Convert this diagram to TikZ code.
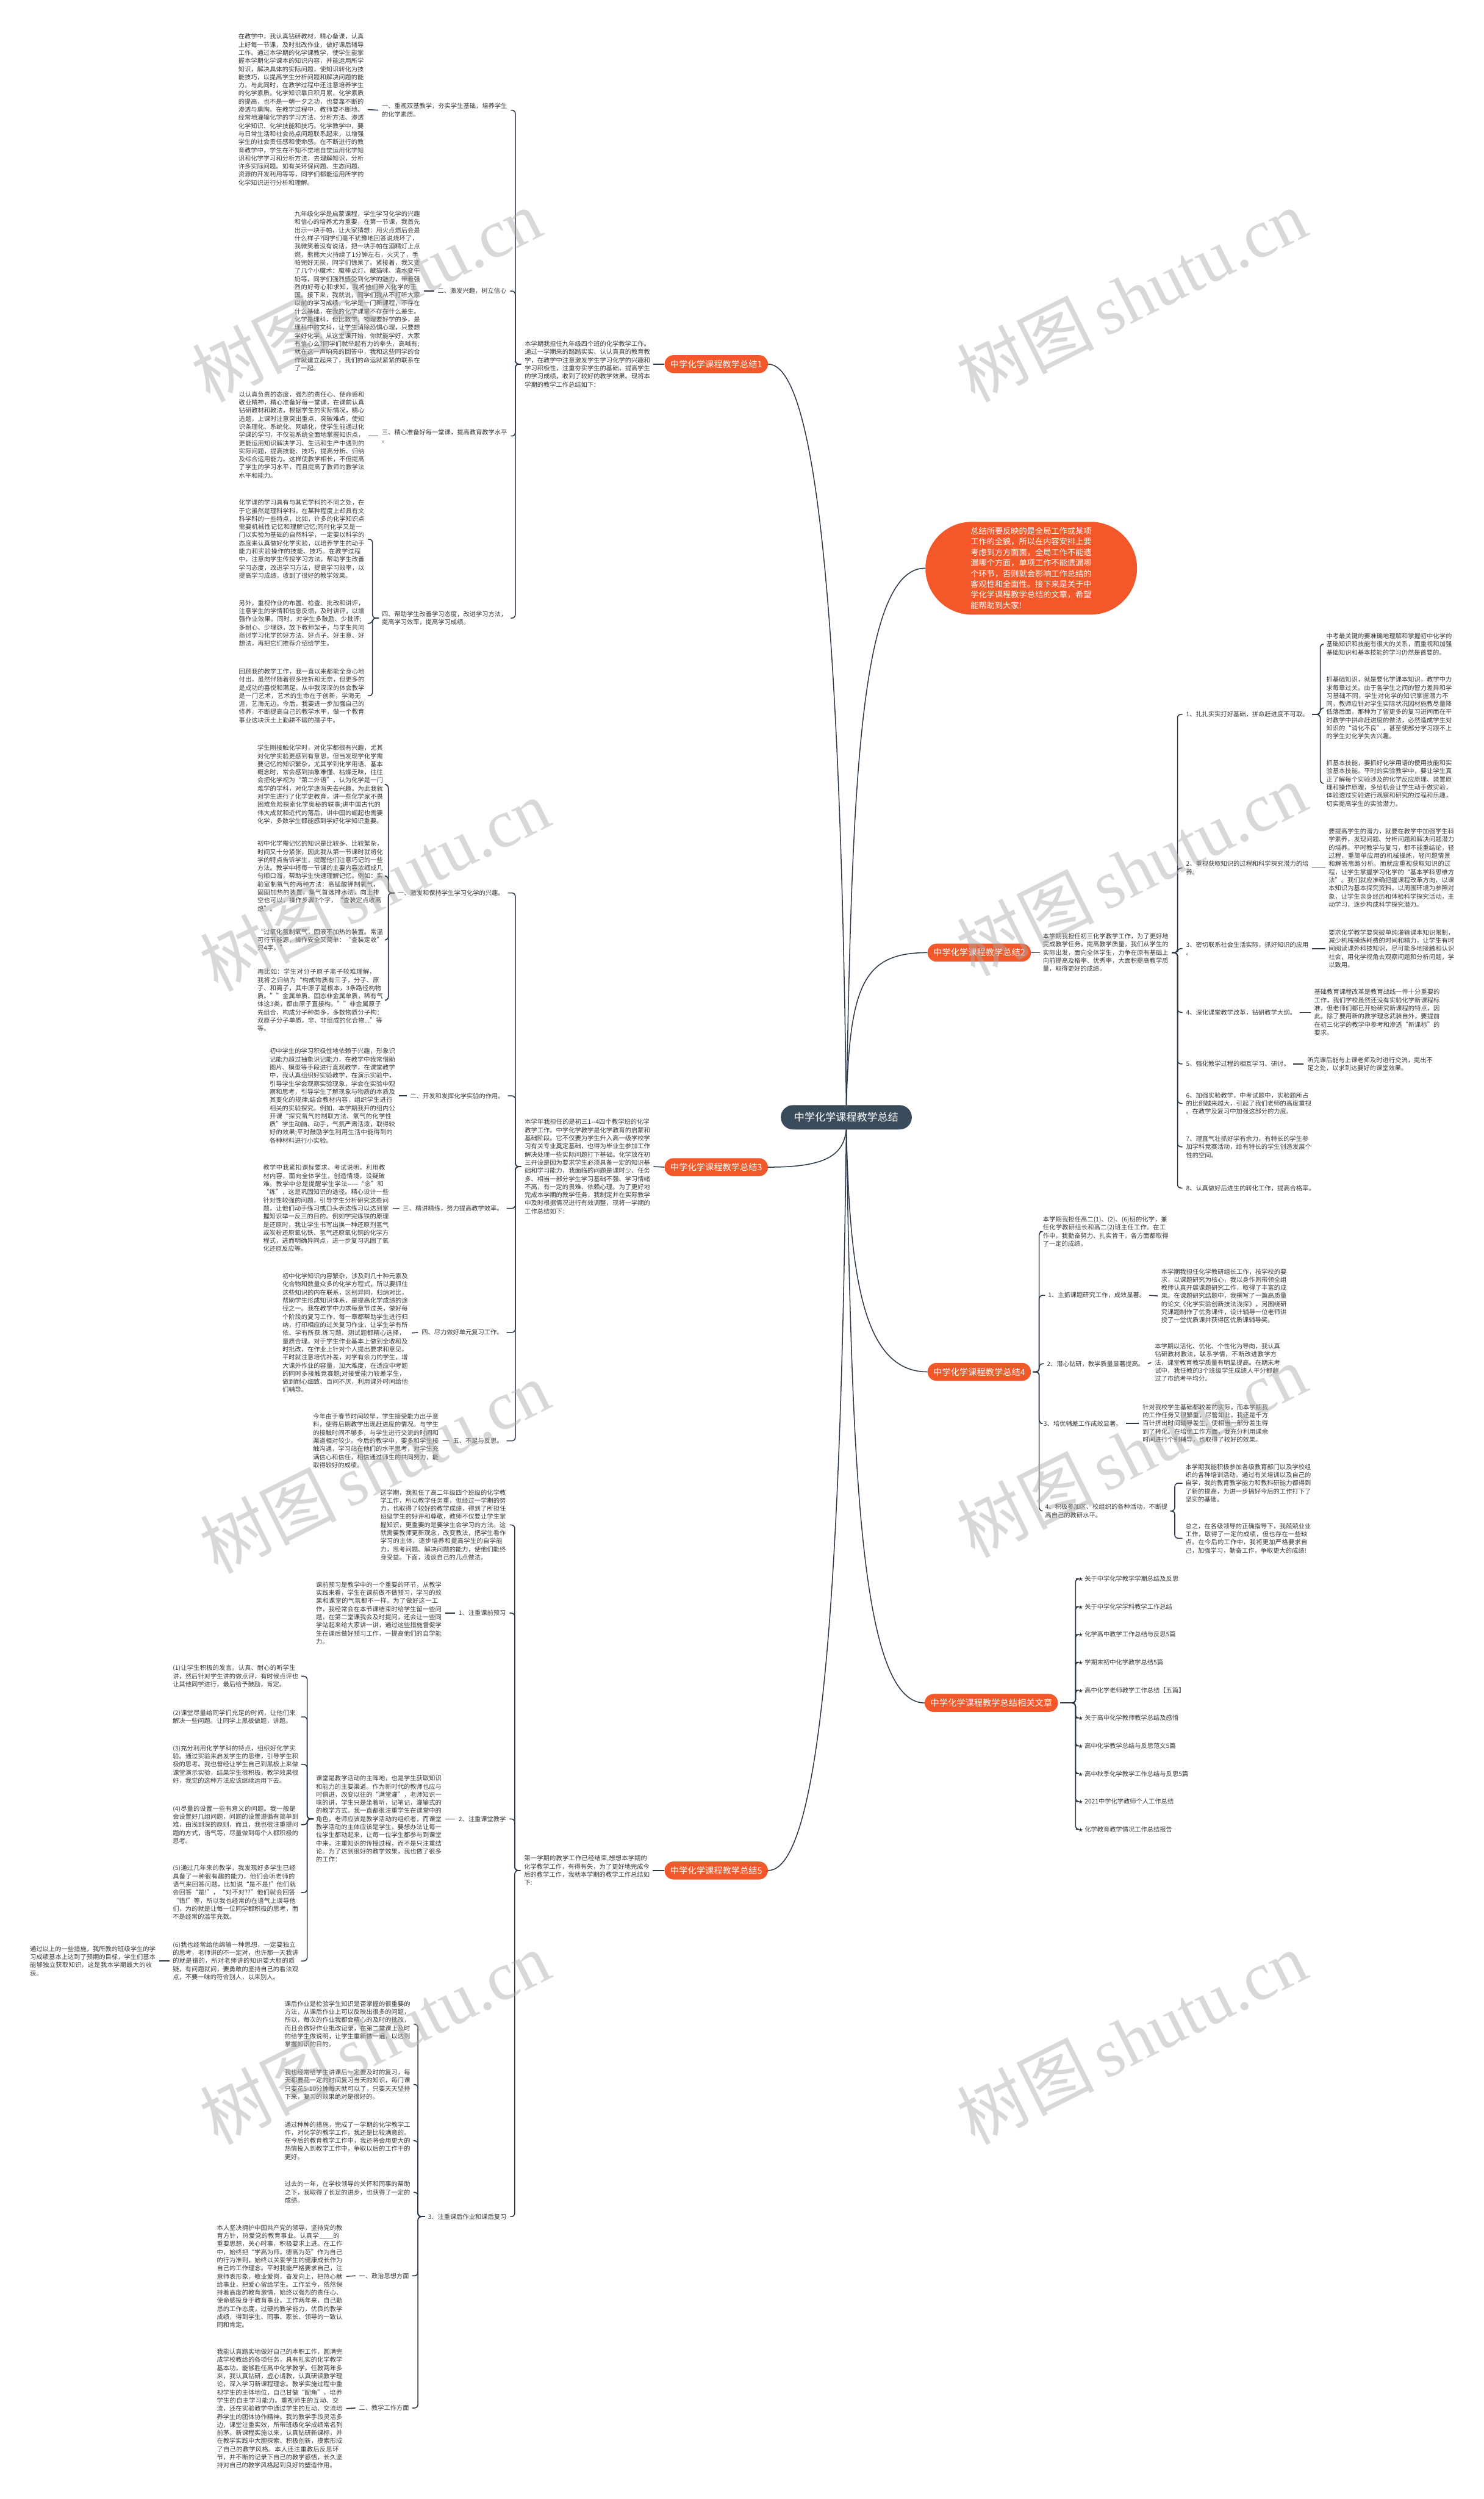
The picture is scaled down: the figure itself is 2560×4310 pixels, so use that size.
\documentclass[tikz,border=0pt]{standalone}
\usepackage{fontspec}
\setmainfont{Noto Sans CJK SC}
\newfontfamily\wmserif{Liberation Serif}
\XeTeXlinebreaklocale "zh"
\XeTeXlinebreakskip = 0pt plus 1pt
\definecolor{orng}{RGB}{242,88,42}
\definecolor{slate}{RGB}{58,75,92}
\definecolor{ln}{RGB}{44,56,70}
\definecolor{txt}{RGB}{55,55,55}
\definecolor{wm}{RGB}{170,170,170}
\tikzset{
  para/.style={text width=217pt, align=left, font=\fontsize{10.8}{14}\selectfont, text=txt, inner sep=0pt},
  lab/.style={align=left, font=\fontsize{10.8}{14}\selectfont, text=txt, inner sep=0pt},
  br/.style={fill=orng, text=white, font=\fontsize{15}{18}\selectfont, rounded corners=15.5pt, minimum height=31pt, inner xsep=10pt, inner ysep=0pt},
  ctr/.style={fill=slate, text=white, font=\fontsize{18}{22}\selectfont, rounded corners=21pt, minimum height=42pt, inner xsep=23pt, inner ysep=0pt},
  callout/.style={fill=orng, text=white, rounded corners=80pt, minimum height=160pt, text width=209pt, inner xsep=78pt, inner ysep=0pt, align=left, font=\fontsize{13.9}{18.3}\selectfont},
  conn/.style={draw=ln, line width=1.6pt},
  brk/.style={draw=ln, line width=1.6pt, rounded corners=6pt},
  wmark/.style={text=wm, text opacity=0.45, rotate=26.6, font=\fontsize{118}{120}\selectfont, inner sep=0pt},
  star/.style={align=left, font=\fontsize{10.8}{14}\selectfont, text=txt, inner sep=0pt}
}
\begin{document}
\begin{tikzpicture}[x=1pt,y=-1pt]
\fill[white] (0,0) rectangle (2560,4310);
\useasboundingbox (0,0) rectangle (2560,4310);

% ---------------- centre and branches ----------------
\node[ctr] (c) at (1460,1927) {中学化学课程教学总结};
\node[callout] (co) at (1779,980) {总结所要反映的是全局工作或某项\\工作的全貌，所以在内容安排上要\\考虑到方方面面，全局工作不能遗\\漏哪个方面，单项工作不能遗漏哪\\个环节，否则就会影响工作总结的\\客观性和全面性。接下来是关于中\\学化学课程教学总结的文章，希望\\能帮助到大家!};
\node[br,anchor=east] (b1) at (1325,628) {中学化学课程教学总结1};
\node[br,anchor=west] (b2) at (1600,1643) {中学化学课程教学总结2};
\node[br,anchor=east] (b3) at (1325,2013) {中学化学课程教学总结3};
\node[br,anchor=west] (b4) at (1600,2366) {中学化学课程教学总结4};
\node[br,anchor=west] (rel) at (1595,2937) {中学化学课程教学总结相关文章};
\node[br,anchor=east] (b5) at (1325,3226) {中学化学课程教学总结5};

\draw[conn] (c.north) .. controls (1452,1300) and (1428,628) .. (b1.east);
\draw[conn] (c.north) .. controls (1470,1400) and (1478,978) .. (co.west);
\draw[conn] (c.north) .. controls (1466,1700) and (1488,1643) .. (b2.west);
\draw[conn] (c.south) .. controls (1455,1995) and (1420,2013) .. (b3.east);
\draw[conn] (c.south) .. controls (1466,2200) and (1488,2366) .. (b4.west);
\draw[conn] (c.south) .. controls (1470,2500) and (1480,2937) .. (rel.west);
\draw[conn] (c.south) .. controls (1452,2600) and (1428,3226) .. (b5.east);

% ---------------- branch 1 ----------------
\node[para,anchor=west] (i1) at (905,628) {本学期我担任九年级四个班的化学教学工作。通过一学期来的踏踏实实、认认真真的教育教学，在教学中注意激发学生学习化学的兴趣和学习积极性，注重夯实学生的基础，提高学生的学习成绩，收到了较好的教学效果。现将本学期的教学工作总结如下：};
\draw[conn] ([xshift=5pt]i1.east) -- (b1.west);

\node[lab,anchor=east] (l11) at (875,190) {一、重视双基教学，夯实学生基础，培养学生\\的化学素质。};
\node[lab,anchor=east] (l12) at (874,502) {二、激发兴趣，树立信心};
\node[lab,anchor=east] (l13) at (875,752) {三、精心准备好每一堂课，提高教育教学水平\\。};
\node[lab,anchor=east] (l14) at (875,1066) {四、帮助学生改善学习态度，改进学习方法，\\提高学习效率，提高学习成绩。};
\foreach \n in {l11,l12,l13,l14}{\draw[brk] ([xshift=-6pt]i1.west) -- ++(-10,0) |- ([xshift=6pt]\n.east);}

\node[para,anchor=west] (p11) at (411,189) {在教学中，我认真钻研教材，精心备课，认真上好每一节课，及时批改作业，做好课后辅导工作。通过本学期的化学课教学，使学生能掌握本学期化学课本的知识内容，并能运用所学知识，解决具体的实际问题，使知识转化为技能技巧，以提高学生分析问题和解决问题的能力。与此同时，在教学过程中还注意培养学生的化学素质。化学知识靠日积月累，化学素质的提高，也不是一朝一夕之功，也要靠不断的渗透与熏陶。在教学过程中，教师要不断地、经常地灌输化学的学习方法、分析方法、渗透化学知识、化学技能和技巧。化学教学中，要与日常生活和社会热点问题联系起来，以增强学生的社会责任感和使命感。在不断进行的教育教学中，学生在不知不觉地自觉运用化学知识和化学学习和分析方法，去理解知识，分析许多实际问题。如有关环保问题、生态问题、资源的开发利用等等，同学们都能运用所学的化学知识进行分析和理解。};
\node[para,anchor=west] (p12) at (508,502) {九年级化学是启蒙课程，学生学习化学的兴趣和信心的培养尤为重要，在第一节课，我首先出示一块手帕，让大家猜想：用火点燃后会是什么样子?同学们毫不犹豫地回答说烧坏了，我微笑着没有说话，把一块手帕在酒精灯上点燃，熊熊大火持续了1分钟左右，火灭了，手帕完好无损，同学们惊呆了。紧接着，我又变了几个小魔术：魔棒点灯、藏猫咪、清水变牛奶等，同学们强烈感受到化学的魅力，带着强烈的好奇心和求知，我将他们带入化学的王国。接下来，我就说，同学们我从不打听大家以前的学习成绩，化学是一门新课程，不存在什么基础，在我的化学课堂不存在什么差生。化学是理科，但比数学、物理要好学的多，是理科中的文科，让学生消除恐惧心理，只要想学好化学，从这堂课开始，你就能学好，大家有信心么?同学们就举起有力的拳头，高喊有;就在这一声响亮的回答中，我和这些同学的合作就建立起来了，我们的命运就紧紧的联系在了一起。};
\node[para,anchor=west] (p13) at (412,750) {以认真负责的态度，强烈的责任心、使命感和敬业精神，精心准备好每一堂课，在课前认真钻研教材和教法，根据学生的实际情况，精心选题，上课时注意突出重点、突破难点，使知识条理化、系统化、网络化，使学生能通过化学课的学习，不仅能系统全面地掌握知识点，更能运用知识解决学习、生活和生产中遇到的实际问题，提高技能、技巧，提高分析、归纳及综合运用能力。这样使教学相长，不但提高了学生的学习水平，而且提高了教师的教学法水平和能力。};
\node[para,anchor=west] (p14a) at (412,930) {化学课的学习具有与其它学科的不同之处，在于它虽然是理科学科，在某种程度上却具有文科学科的一些特点，比如，许多的化学知识点需要机械性记忆和理解记忆;同时化学又是一门以实验为基础的自然科学，一定要以科学的态度来认真做好化学实验，以培养学生的动手能力和实验操作的技能、技巧。在教学过程中，注意向学生传授学习方法，帮助学生改善学习态度，改进学习方法，提高学习效率，以提高学习成绩，收到了很好的教学效果。};
\node[para,anchor=west] (p14b) at (412,1075) {另外，重视作业的布置、检查、批改和讲评，注意学生的学情和信息反馈，及时讲评，以增强作业效果。同时，对学生多鼓励、少批评;多耐心、少埋怨，放下教师架子，与学生共同商讨学习化学的好方法、好点子、好主意、好想法，再把它们推荐介绍给学生。};
\node[para,anchor=west] (p14c) at (412,1200) {回顾我的教学工作，我一直以来都能全身心地付出，虽然伴随着很多挫折和无奈，但更多的是成功的喜悦和满足。从中我深深的体会教学是一门艺术，艺术的生命在于创新，学海无涯，艺海无边。今后，我要进一步加强自己的修养，不断提高自己的教学水平，做一个教育事业这块沃土上勤耕不辍的孺子牛。};
\draw[conn] ([xshift=6pt]p11.east) -- ([xshift=-6pt]l11.west);
\draw[conn] ([xshift=6pt]p12.east) -- ([xshift=-6pt]l12.west);
\draw[conn] ([xshift=6pt]p13.east |- l13.west) -- ([xshift=-6pt]l13.west);
\foreach \n in {p14a,p14b,p14c}{\draw[brk] ([xshift=-5pt]l14.west) -- ++(-11,0) |- ([xshift=5pt]\n.east);}

% ---------------- branch 3 ----------------
\node[para,anchor=west] (i3) at (905,2012) {本学年我担任的是初三1{-}{-}4四个教学班的化学教学工作。中学化学教学是化学教育的启蒙和基础阶段。它不仅要为学生升入高一级学校学习有关专业奠定基础，也得为毕业生参加工作解决处理一些实际问题打下基础。化学放在初三开设是因为要求学生必须具备一定的知识基础和学习能力，我面临的问题是课时少、任务多、相当一部分学生学习基础不强、学习情绪不高，有一定的畏难、依赖心理。为了更好地完成本学期的教学任务，我制定并在实际教学中及时根据情况进行有效调整，现将一学期的工作总结如下：};
\draw[conn] ([xshift=5pt]i3.east) -- (b3.west);
\node[lab,anchor=east] (l31) at (870,1540) {一、激发和保持学生学习化学的兴趣。};
\node[lab,anchor=east] (l32) at (870,1890) {二、开发和发挥化学实验的作用。};
\node[lab,anchor=east] (l33) at (868,2084) {三、精讲精练，努力提高教学效率。};
\node[lab,anchor=east] (l34) at (868,2298) {四、尽力做好单元复习工作。};
\node[lab,anchor=east] (l35) at (868,2485) {五、不足与反思。};
\foreach \n in {l31,l32,l33,l34,l35}{\draw[brk] ([xshift=-6pt]i3.west) -- ++(-10,0) |- ([xshift=6pt]\n.east);}

\node[para,anchor=west] (p31a) at (444,1353) {学生刚接触化学时，对化学都很有兴趣，尤其对化学实验更感到有意思。但当发现学化学需要记忆的知识繁杂，尤其学到化学用语、基本概念时，常会感到抽象难懂、枯燥乏味，往往会把化学视为“第二外语”，认为化学是一门难学的学科，对化学逐渐失去兴趣。为此我就对学生进行了化学史教育，讲一些化学家不畏困难危险探索化学奥秘的轶事;讲中国古代的伟大成就和近代的落后，讲中国的崛起也需要化学，多数学生都能感到学好化学知识重要。};
\node[para,anchor=west] (p31b) at (444,1511) {初中化学需记忆的知识是比较多、比较繁杂，时间又十分紧张，因此我从第一节课时就将化学的特点告诉学生，提醒他们注意巧记的一些方法。教学中将每一节课的主要内容浓缩成几句顺口溜，帮助学生快速理解记忆。例如：实验室制氧气的两种方法：高锰酸钾制氧气，固固加热的装置，集气首选排水法，向上排空也可以，操作步骤7个字，“查装定点收离熄”。};
\node[para,anchor=west] (p31c) at (444,1621) {“过氧化氢制氧气，固液不加热的装置。常温可行节能源，操作安全又简单：“查装定收”只4字。”};
\node[para,anchor=west] (p31d) at (444,1725) {再比如：学生对分子原子离子较难理解，我将之归纳为“构成物质有三子，分子、原子、和离子，其中原子是根本，3条路径构物质。””金属单质、固态非金属单质，稀有气体这3类，都由原子直接构。””非金属原子先组合，构成分子种类多，多数物质分子构：双原子分子单质，非、非组成的化合物...”等等。};
\foreach \n in {p31a,p31b,p31c,p31d}{\draw[brk] ([xshift=-5pt]l31.west) -- ++(-11,0) |- ([xshift=5pt]\n.east);}
\node[para,anchor=west] (p32) at (465,1890) {初中学生的学习积极性地依赖于兴趣，形象识记能力超过抽象识记能力，在教学中我常借助图片、模型等手段进行直观教学，在课堂教学中，我认真组织好实验教学，在演示实验中，引导学生学会观察实验现象，学会在实验中观察和思考，引导学生了解现象与物质的本质及其变化的规律;结合教材内容，组织学生进行相关的实验探究。例如，本学期我开的组内公开课“探究氧气的制取方法、氧气的化学性质”学生动脑、动手，气氛严肃活泼，取得较好的效果;平时鼓励学生利用生活中能得到的各种材料进行小实验。};
\node[para,anchor=west] (p33) at (454,2084) {教学中我紧扣课标要求、考试说明，利用教材内容，面向全体学生，创造情境，设疑破难。教学中总是提醒学生学法{-}{-}{-}{-}{-}“念”和“练”，这是巩固知识的途径。精心设计一些针对性较强的问题，引导学生分析研究这些问题，让他们动手练习或口头表达练习以达到掌握知识举一反三的目的。例如学完炼铁的原理是还原时，我让学生书写出换一种还原剂氢气或炭粉还原氧化铁、氢气还原氧化铜的化学方程式，进而明确异同点，进一步复习巩固了氧化还原反应等。};
\node[para,anchor=west] (p34) at (487,2299) {初中化学知识内容繁杂，涉及到几十种元素及化合物和数量众多的化学方程式，所以要抓住这些知识的内在联系，区别异同，归纳对比，帮助学生形成知识体系，是提高化学成绩的途径之一。我在教学中力求每章节过关，做好每个阶段的复习工作，每一章都帮助学生进行归纳，打印相应的过关复习作业，让学生学有所依、学有所获.练习题、测试题都精心选择，量质合理。对于学生作业基本上做到全收和及时批改，在作业上针对个人提出要求和意见。平时就注意培优补差，对学有余力的学生，增大课外作业的容量，加大难度，在适应中考题的同时多接触竞赛题;对接受能力较差学生，做到耐心细致、百问不厌，利用课外时间给他们辅导。};
\node[para,anchor=west] (p35) at (540,2485) {今年由于春节时间较早，学生接受能力出乎意料，使得后期教学出现赶进度的情况。与学生的接触时间不够多，与学生进行交流的时间和渠道相对较少。今后的教学中，要多和学生接触沟通，学习站在他们的水平思考，对学生充满信心和信任，相信通过师生的共同努力，能取得较好的成绩。};
\draw[conn] ([xshift=6pt]p32.east) -- ([xshift=-6pt]l32.west);
\draw[conn] ([xshift=6pt]p33.east) -- ([xshift=-6pt]l33.west);
\draw[conn] ([xshift=6pt]p34.east) -- ([xshift=-6pt]l34.west);
\draw[conn] ([xshift=6pt]p35.east) -- ([xshift=-6pt]l35.west);

% ---------------- branch 5 ----------------
\node[para,anchor=west] (i5) at (904,3226) {第一学期的教学工作已经结束,想想本学期的化学教学工作，有得有失，为了更好地完成今后的教学工作，我就本学期的教学工作总结如下:};
\draw[conn] ([xshift=5pt]i5.east) -- (b5.west);
\node[para,anchor=west] (p50) at (656,2630) {这学期，我担任了高二年级四个班级的化学教学工作，所以教学任务重，但经过一学期的努力，也取得了较好的教学成绩，得到了所担任班级学生的好评和尊敬，教师不仅要让学生掌握知识，更重要的是要学生会学习的方法。这就需要教师更新观念，改变教法，把学生看作学习的主体，逐步培养和提高学生的自学能力，思考问题、解决问题的能力，使他们能终身受益。下面，浅谈自己的几点做法。};
\node[lab,anchor=east] (l51) at (873,2782) {1、注重课前预习};
\node[lab,anchor=east] (l52) at (873,3137) {2、注重课堂教学};
\node[lab,anchor=east] (l53) at (874,3823) {3、注重课后作业和课后复习};
\foreach \n in {p50,l51,l52,l53}{\draw[brk] ([xshift=-6pt]i5.west) -- ++(-10,0) |- ([xshift=6pt]\n.east);}

\node[para,anchor=west] (p51) at (545,2782) {课前预习是教学中的一个重要的环节，从教学实践来看，学生在课前做不做预习，学习的效果和课堂的气氛都不一样。为了做好这一工作，我经常会在本节课结束时给学生留一些问题，在第二堂课我会及时提问，还会让一些同学站起来给大家讲一讲，通过这些措施督促学生在课后做好预习工作，一提高他们的自学能力。};
\draw[conn] ([xshift=6pt]p51.east) -- ([xshift=-6pt]l51.west);
\node[para,anchor=west] (p52) at (545,3137) {课堂是教学活动的主阵地，也是学生获取知识和能力的主要渠道。作为新时代的教师也应与时俱进，改变以往的“满堂灌”，老师知识一味的讲，学生只是坐着听，记笔记，灌输式的的教学方式。我一直都很注重学生在课堂中的角色，老师应该是教学活动的组织者，而课堂教学活动的主体应该是学生，要想办法让每一位学生都动起来，让每一位学生都参与到课堂中来，注重知识的传授过程，而不是只注重结论。为了达到很好的教学效果，我也做了很多的工作：};
\draw[conn] ([xshift=6pt]p52.east) -- ([xshift=-6pt]l52.west);

\node[para,anchor=west] (q1) at (298,2891) {(1)让学生积极的发言。认真、耐心的听学生讲，然后针对学生讲的做点评，有时候点评也让其他同学进行，最后给予鼓励，肯定。};
\node[para,anchor=west] (q2) at (298,2961) {(2)课堂尽量给同学们充足的时间，让他们来解决一些问题。让同学上黑板做题，讲题。};
\node[para,anchor=west] (q3) at (298,3043) {(3)充分利用化学学科的特点，组织好化学实验。通过实验来启发学生的思维，引导学生积极的思考。我也曾经让学生自己到黑板上来做课堂演示实验，结果学生很积极，教学效果很好，我觉的这种方法应该继续运用下去。};
\node[para,anchor=west] (q4) at (298,3147) {(4)尽量的设置一些有意义的问题。我一般是会设置好几组问题，问题的设置遵循有简单到难，由浅到深的原则，而且，我也很注重提问题的方式，语气等，尽量做到每个人都积极的思考。};
\node[para,anchor=west] (q5) at (298,3264) {(5)通过几年来的教学，我发现好多学生已经具备了一种很有趣的能力，他们会听老师的语气来回答问题，比如说“是不是!”他们就会回答“是!”，“对不对??”他们就会回答“错!”等，所以我也经常的在语气上误导他们，为的就是让每一位同学都积极的思考，而不是经常的滥竽充数。};
\node[para,anchor=west] (q6) at (298,3382) {(6)我也经常给他绵输一种思想，一定要独立的思考，老师讲的不一定对，也许那一天我讲的就是错的，所对老师讲的知识要大胆的质疑，有问题就问，要勇敢的坚持自己的看法观点，不要一味的符合别人，以来别人。};
\foreach \n in {q1,q2,q3,q4,q5,q6}{\draw[brk] ([xshift=-4pt]p52.west) -- ++(-11,0) |- ([xshift=4pt]\n.east);}
\node[para,anchor=east] (pf) at (269,3382) {通过以上的一些措施，我所教的班级学生的学习成绩基本上达到了预期的目标，学生们基本能够独立获取知识，这是我本学期最大的收获。};
\draw[conn] ([xshift=-6pt]q6.west) -- ([xshift=6pt]pf.east);

\node[para,anchor=west] (r1) at (491,3491) {课后作业是检验学生知识是否掌握的很重要的方法，从课后作业上可以反映出很多的问题，所以，每次的作业我都会精心的及时的批改，而且会做好作业批改记录，在第二堂课上及时的给学生做说明，让学生重新做一遍，以达到掌握知识的目的。};
\node[para,anchor=west] (r2) at (491,3595) {我也经常给学生讲课后一定要及时的复习，每天都要花一定的时间复习当天的知识，每门课只要花5-10分钟每天就可以了，只要天天坚持下来，复习的效果绝对是很好的。};
\node[para,anchor=west] (r3) at (491,3692) {通过种种的措施，完成了一学期的化学教学工作，对化学的教学工作，我还是比较满意的。在今后的教育教学工作中，我还将会用更大的热情投入到教学工作中，争取以后的工作干的更好。};
\node[para,anchor=west] (r4) at (491,3781) {过去的一年，在学校领导的关怀和同事的帮助之下，我取得了长足的进步，也获得了一定的成绩。};
\node[lab,anchor=east] (r5) at (706,3925) {一、政治思想方面};
\node[lab,anchor=east] (r6) at (706,4153) {二、教学工作方面};
\foreach \n in {r1,r2,r3,r4,r5,r6}{\draw[brk] ([xshift=-5pt]l53.west) -- ++(-12,0) |- ([xshift=5pt]\n.east);}
\node[para,anchor=west] (pr5) at (374,3926) {本人坚决拥护中国共产党的领导，坚持党的教育方针，热爱党的教育事业。认真学\_\_\_\_的重要思想，关心时事，积极要求上进。在工作中，始终把“学高为师，德高为范”作为自己的行为准则，始终以关爱学生的健康成长作为自己的工作理念。平时我能严格要求自己，注意师表形象，敬业爱岗，奋发向上，把热心献给事业，把爱心留给学生。工作至今，依然保持着高度的教育激情，始终以强烈的责任心、使命感投身于教育事业。工作两年来，自己勤恳的工作态度，过硬的教学能力，优良的教学成绩，得到学生、同事、家长、领导的一致认同和肯定。};
\node[para,anchor=west] (pr6) at (374,4154) {我能认真踏实地做好自己的本职工作，圆满完成学校教给的各项任务，具有扎实的化学教学基本功，能够胜任高中化学教学。任教两年多来，我认真钻研，虚心请教，认真研读教学理论，深入学习新课程理念。教学实施过程中重视学生的主体地位，自己甘做“配角”，培养学生的自主学习能力。重视师生的互动、交流，还在实验教学中通过学生的互动、交流培养学生的团体协作精神。我的教学手段灵活多边，课堂注重实效，所带班级化学成绩常名列前茅。新课程实施以来，认真钻研新课标，并在教学实践中大胆探索、积极创新，摸索形成了自己的教学风格。本人还注重教后反思环节，并不断的记录下自己的教学感悟，长久坚持对自己的教学风格起到良好的塑造作用。};
\draw[conn] ([xshift=6pt]pr5.east) -- ([xshift=-6pt]r5.west);
\draw[conn] ([xshift=6pt]pr6.east) -- ([xshift=-6pt]r6.west);

% ---------------- branch 2 ----------------
\node[para,anchor=west] (i2) at (1799,1643) {本学期我担任初三化学教学工作，为了更好地完成教学任务，提高教学质量，我们从学生的实际出发，面向全体学生，力争在原有基础上向前提高及格率、优秀率，大面积提高教学质量，取得更好的成绩。};
\draw[conn] (b2.east) -- ([xshift=-5pt]i2.west);
\node[lab,anchor=west] (m1) at (2046,1232) {1、扎扎实实打好基础，拼命赶进度不可取。};
\node[lab,anchor=west] (m2) at (2046,1497) {2、重视获取知识的过程和科学探究潜力的培\\养。};
\node[lab,anchor=west] (m3) at (2046,1636) {3、密切联系社会生活实际，抓好知识的应用\\。};
\node[lab,anchor=west] (m4) at (2046,1746) {4、深化课堂教学改革，钻研教学大纲。};
\node[lab,anchor=west] (m5) at (2046,1835) {5、强化教学过程的相互学习、研讨。};
\node[lab,anchor=west] (m6) at (2046,1903) {6、加强实验教学，中考试题中，实验题所占\\的比例越来越大，引起了我们老师的高度重视\\。在教学及复习中加强这部分的力度。};
\node[lab,anchor=west] (m7) at (2046,1978) {7、理直气壮抓好学有余力，有特长的学生参\\加学科竞赛活动，给有特长的学生创造发展个\\性的空间。};
\node[lab,anchor=west] (m8) at (2046,2049) {8、认真做好后进生的转化工作，提高合格率。};
\foreach \n in {m1,m2,m3,m4,m5,m6,m7,m8}{\draw[brk] ([xshift=5pt]i2.east) -- ++(10,0) |- ([xshift=-6pt]\n.west);}

\node[para,anchor=west] (n1a) at (2288,1111) {中考最关键的要准确地理解和掌握初中化学的基础知识和技能有很大的关系，而重视和加强基础知识和基本技能的学习仍然是首要的。};
\node[para,anchor=west] (n1b) at (2288,1221) {抓基础知识，就是要化学课本知识，教学中力求每章过关。由于各学生之间的智力差异和学习基础不同，学生对化学的知识掌握潜力不同，教师应针对学生实际状况因材施教尽量降低落后面，那种为了留更多的复习进间而在平时教学中拼命赶进度的做法，必然造成学生对知识的“消化不良”，甚至使部分学习跟不上的学生对化学失去兴趣。};
\node[para,anchor=west] (n1c) at (2288,1351) {抓基本技能，要抓好化学用语的使用技能和实验基本技能。平时的实验教学中，要让学生真正了解每个实验涉及的化学反应原理、装置原理和操作原理，多给机会让学生动手做实验，体验透过实验进行观察和研究的过程和乐趣，切实提高学生的实验潜力。};
\foreach \n in {n1a,n1b,n1c}{\draw[brk] ([xshift=6pt]m1.east) -- ++(14,0) |- ([xshift=-6pt]\n.west);}
\node[para,anchor=west] (n2) at (2292,1497) {要提高学生的潜力，就要在教学中加强学生科学素养，发现问题、分析问题和解决问题潜力的培养。平时教学与复习，都不能重结论，轻过程，重简单应用的机械操练，轻问题情景和解答思路分析。而就应重视获取知识的过程，让学生掌握学习化学的“基本学科思维方法”。我们就应准确把握课程改革方向，以课本知识为基本探究资料，以周围环境为参照对象，让学生亲身经历和体验科学探究活动，主动学习，逐步构成科学探究潜力。};
\node[para,anchor=west] (n3) at (2292,1636) {要求化学教学要突破单纯灌输课本知识限制，减少机械操练耗费的时间和精力，让学生有时间阅读课外科技知识，尽可能多地接触和认识社会，用化学视角去观察问题和分析问题，学以致用。};
\node[para,anchor=west] (n4) at (2267,1746) {基础教育课程改革是教育战线一件十分重要的工作，我们学校虽然还没有实验化学新课程标准，但老师们都已开始研究新课程的特点，因此，除了要用新的教学理念武装自外，要提前在初三化学的教学中参考和渗透“新课标”的要求。};
\node[para,anchor=west] (n5) at (2255,1835) {听完课后能与上课老师及时进行交流，提出不足之处，以求到达要好的课堂效果。};
\draw[conn] ([xshift=6pt]m2.east) -- ([xshift=-6pt]n2.west);
\draw[conn] ([xshift=6pt]m3.east) -- ([xshift=-6pt]n3.west);
\draw[conn] ([xshift=6pt]m4.east) -- ([xshift=-6pt]n4.west);
\draw[conn] ([xshift=6pt]m5.east) -- ([xshift=-6pt]n5.west);

% ---------------- branch 4 ----------------
\node[para,anchor=west] (i4) at (1799,2124) {本学期我担任高二(1)、(2)、(6)班的化学，兼任化学教研组长和高二(2)班主任工作。在工作中，我勤奋努力、扎实肯干，各方面都取得了一定的成绩。};
\node[lab,anchor=west] (k1) at (1808,2234) {1、主抓课题研究工作，成效显著。};
\node[lab,anchor=west] (k2) at (1806,2352) {2、潜心钻研，教学质量显著提高。};
\node[lab,anchor=west] (k3) at (1800,2455) {3、培优辅差工作成效显著。};
\node[lab,anchor=west] (k4) at (1803,2606) {4、积极参加区、校组织的各种活动，不断提\\高自己的教研水平。};
\foreach \n in {i4,k1,k2,k3,k4}{\draw[brk] ([xshift=3pt]b4.east) -- ++(11,0) |- ([xshift=-5pt]\n.west);}
\node[para,anchor=west] (n41) at (2003,2235) {本学期我担任化学教研组长工作，按学校的要求，以课题研究为核心，我以身作则带领全组教师认真开展课题研究工作，取得了丰富的成果。在课题研究结题中，我撰写了一篇高质量的论文《化学实验创新技法浅探》，另围绕研究课题制作了优秀课件，设计辅导一位老师讲授了一堂优质课并获得区优质课辅导奖。};
\node[para,anchor=west] (n42) at (1992,2350) {本学期以活化、优化、个性化为导向，我认真钻研教材教法，联系学情，不断改进教学方法，课堂教育教学质量有明显提高。在期末考试中，我任教的3个班级学生成绩人平分都超过了市统考平均分。};
\node[para,anchor=west] (n43) at (1971,2455) {针对我校学生基础都较差的实际，而本学期我的工作任务又很繁重，尽管如此，我还是千方百计挤出时间辅导差生，使相当一部分差生得到了转化。在培优工作方面，我充分利用课余时间进行个别辅导，也取得了较好的效果。};
\node[para,anchor=west] (n44a) at (2045,2558) {本学期我能积极参加各级教育部门以及学校组织的各种培训活动。通过有关培训以及自己的自学，我的教育教学能力和教科研能力都得到了新的提高，为进一步搞好今后的工作打下了坚实的基础。};
\node[para,anchor=west] (n44b) at (2045,2653) {总之，在各级领导的正确指导下，我兢兢业业工作，取得了一定的成绩，但也存在一些缺点。在今后的工作中，我将更加严格要求自己，加强学习，勤奋工作，争取更大的成绩!};
\draw[conn] ([xshift=6pt]k1.east) -- ([xshift=-6pt]n41.west);
\draw[conn] ([xshift=6pt]k2.east) -- ([xshift=-6pt]n42.west);
\draw[conn] ([xshift=6pt]k3.east) -- ([xshift=-6pt]n43.west);
\foreach \n in {n44a,n44b}{\draw[brk] ([xshift=4pt]k4.east) -- ++(8,0) |- ([xshift=-5pt]\n.west);}

% ---------------- related articles ----------------
\foreach \i/\t in {0/关于中学化学教学学期总结及反思,1/关于中学化学学科教学工作总结,2/化学高中教学工作总结与反思5篇,3/学期末初中化学教学总结5篇,4/高中化学老师教学工作总结【五篇】,5/关于高中化学教师教学总结及感悟,6/高中化学教学总结与反思范文5篇,7/高中秋季化学教学工作总结与反思5篇,8/2021中学化学教师个人工作总结,9/化学教育教学情况工作总结报告}{
  \node[star,anchor=west] (s\i) at (1860,2723+48*\i) {{\fontsize{8}{10}\selectfont ★}\hspace{3pt}\t};
  \draw[brk] ([xshift=4pt]rel.east) -- ++(26,0) |- ([xshift=-4pt]s\i.west);
}

% ---------------- watermarks ----------------
\foreach \x/\y in {632/509,1952/509,646/1526,1952/1499,646/2530,1952/2502,646/3514,1952/3514}{
  \node[wmark] at (\x,\y) {树图\hspace{18pt}{\wmserif shutu.cn}};
}
\end{tikzpicture}
\end{document}
